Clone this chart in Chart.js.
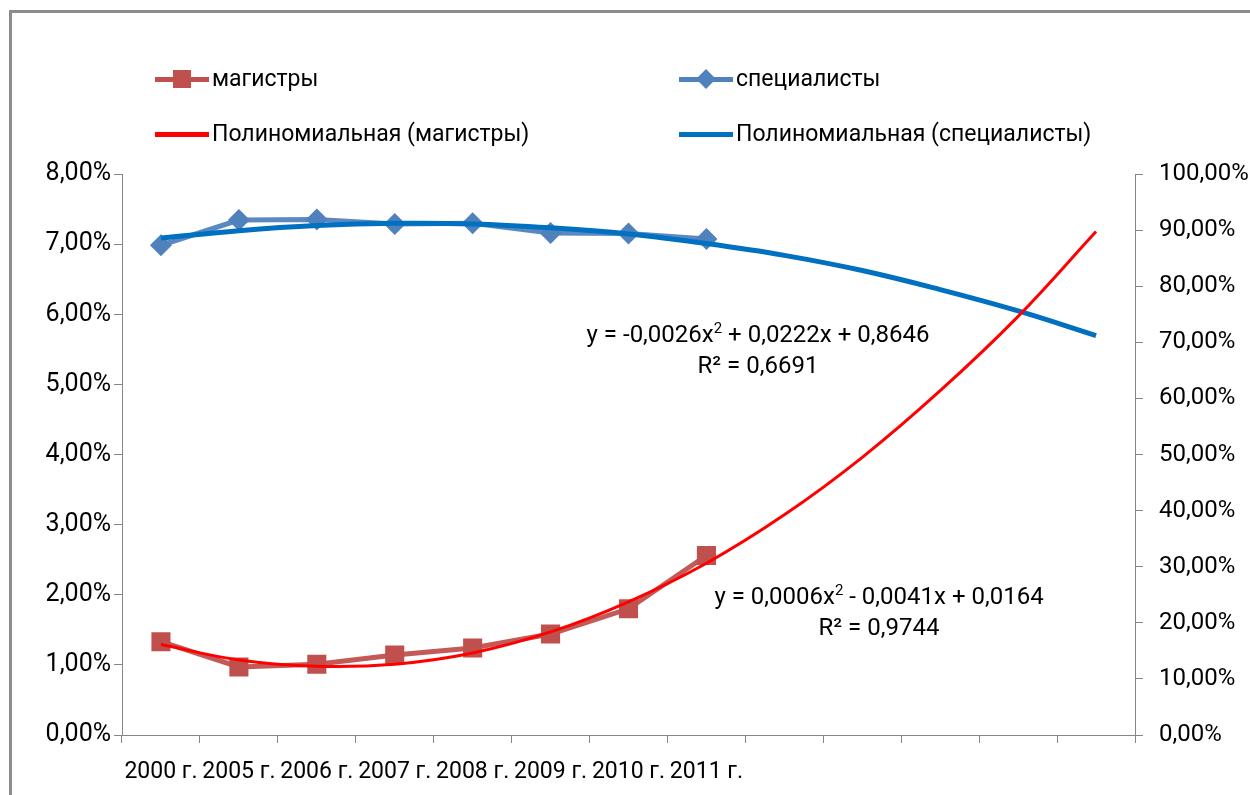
<!DOCTYPE html>
<html>
<head>
<meta charset="utf-8">
<script src="https://cdn.jsdelivr.net/npm/chart.js@4.4.0/dist/chart.umd.min.js"></script>
<style>
html,body{margin:0;padding:0;background:#fff;width:1250px;height:795px;overflow:hidden;font-family:Roboto,"Liberation Sans",sans-serif;color:#000;}
#frame{position:absolute;left:9px;top:10px;width:1300px;height:900px;border-left:3px solid #8c8c8c;border-top:3px solid #8c8c8c;}
#c{position:absolute;left:0;top:0;}
.leg{position:absolute;font-size:23px;line-height:28px;height:28px;white-space:nowrap;}
.leg .ico{position:absolute;left:0;top:0;width:54px;height:28px;}
.leg .ln{position:absolute;left:0;top:12px;width:54px;height:5px;}
.leg .mk{position:absolute;}
.leg .tx{position:absolute;left:57px;top:0;}
.eq{position:absolute;font-size:24px;line-height:31px;text-align:center;white-space:nowrap;width:400px;}
.eq sup{font-size:15px;vertical-align:9px;line-height:0;}
</style>
</head>
<body>
<div id="frame"></div>
<canvas id="c" width="1250" height="795"></canvas>

<div class="leg" style="left:155px;top:65px;">
  <div class="ico"><div class="ln" style="background:#C0504D;"></div><div class="mk" style="left:18px;top:5px;width:18px;height:18px;background:#C0504D;"></div></div>
  <div class="tx">магистры</div>
</div>
<div class="leg" style="left:679px;top:65px;">
  <div class="ico"><div class="ln" style="background:#4F81BD;"></div><div class="mk" style="left:20px;top:7px;width:14px;height:14px;background:#4F81BD;transform:rotate(45deg);"></div></div>
  <div class="tx">специалисты</div>
</div>
<div class="leg" style="left:155px;top:120px;">
  <div class="ico"><div class="ln" style="background:#FF0000;"></div></div>
  <div class="tx">Полиномиальная (магистры)</div>
</div>
<div class="leg" style="left:679px;top:120px;">
  <div class="ico"><div class="ln" style="background:#0070C0;"></div></div>
  <div class="tx">Полиномиальная (специалисты)</div>
</div>

<div class="eq" style="left:558px;top:319px;">y = -0,0026x<sup>2</sup> + 0,0222x + 0,8646<br>R² = 0,6691</div>
<div class="eq" style="left:679px;top:581px;">y = 0,0006x<sup>2</sup> - 0,0041x + 0,0164<br>R² = 0,9744</div>

<script>
// Categories (8 observed years + 5 forecast periods of the trend lines)
const categories = ['2000 г.', '2005 г.', '2006 г.', '2007 г.', '2008 г.', '2009 г.', '2010 г.', '2011 г.', '', '', '', '', ''];
// магистры, % (left axis)
const magistry = [1.33, 0.97, 1.01, 1.14, 1.24, 1.44, 1.80, 2.56];
// специалисты, % (right axis)
const specialisty = [87.3, 91.8, 91.9, 91.1, 91.2, 89.5, 89.4, 88.4];
// Полиномиальная (магистры), %
const trendMagistry = [1.29, 1.07, 0.98, 1.01, 1.17, 1.47, 1.90, 2.45, 3.14, 3.96, 4.91, 5.97, 7.18];
// Полиномиальная (специалисты), %
const trendSpecialisty = [88.6, 89.9, 90.8, 91.2, 91.1, 90.4, 89.3, 87.6, 85.5, 82.8, 79.4, 75.6, 71.2];
// Axis ranges
const leftAxis = {min: 0, max: 8, step: 1};
const rightAxis = {min: 0, max: 100, step: 10};

const fmt = v => v.toFixed(2).replace('.', ',') + '%';
const axisGray = '#868686';
const yFont = {family: 'Roboto', size: 25};
const y1Font = {family: 'Roboto', size: 24};
const xFont = {family: 'Roboto', size: 23};

new Chart(document.getElementById('c'), {
  type: 'line',
  data: {
    labels: categories,
    datasets: [
      {label: 'Полиномиальная (магистры)', data: trendMagistry, yAxisID: 'y', borderColor: '#FF0000', borderWidth: 3, pointRadius: 0, tension: 0.4, order: 0},
      {label: 'Полиномиальная (специалисты)', data: trendSpecialisty, yAxisID: 'y1', borderColor: '#0070C0', borderWidth: 5, pointRadius: 0, tension: 0.4, order: 1},
      {label: 'магистры', data: magistry, yAxisID: 'y', borderColor: '#C45A57', backgroundColor: '#C0504D', borderWidth: 5, pointStyle: 'rect', pointRadius: 13.5, pointBorderWidth: 0, pointBackgroundColor: '#C0504D', tension: 0, order: 2},
      {label: 'специалисты', data: specialisty, yAxisID: 'y1', borderColor: '#5A89C2', backgroundColor: '#4F81BD', borderWidth: 5, pointStyle: 'rectRot', pointRadius: 11, pointBorderWidth: 0, pointBackgroundColor: '#4F81BD', tension: 0, order: 3}
    ]
  },
  options: {
    responsive: false,
    animation: false,
    devicePixelRatio: 1,
    layout: {padding: {top: 174, left: 0, right: 0, bottom: 0}},
    plugins: {legend: {display: false}, tooltip: {enabled: false}},
    scales: {
      x: {
        type: 'category',
        offset: true,
        grid: {display: true, drawOnChartArea: false, offset: true, tickLength: 8, color: axisGray},
        border: {color: axisGray, width: 1},
        ticks: {autoSkip: false, maxRotation: 0, minRotation: 0, padding: 15, font: xFont, color: '#000'},
        afterFit: s => { s.height = 60; }
      },
      y: {
        position: 'left',
        min: leftAxis.min, max: leftAxis.max,
        grid: {display: true, drawOnChartArea: false, tickLength: 8, color: axisGray},
        border: {color: axisGray, width: 1},
        ticks: {stepSize: leftAxis.step, padding: 3, font: yFont, color: '#000', callback: v => fmt(v)},
        afterFit: s => { s.width = 122; }
      },
      y1: {
        position: 'right',
        min: rightAxis.min, max: rightAxis.max,
        grid: {display: true, drawOnChartArea: false, tickLength: 8, color: axisGray},
        border: {color: axisGray, width: 1},
        ticks: {stepSize: rightAxis.step, padding: 16, font: y1Font, color: '#000', callback: v => fmt(v)},
        afterFit: s => { s.width = 115; }
      }
    }
  }
});
</script>
</body>
</html>
